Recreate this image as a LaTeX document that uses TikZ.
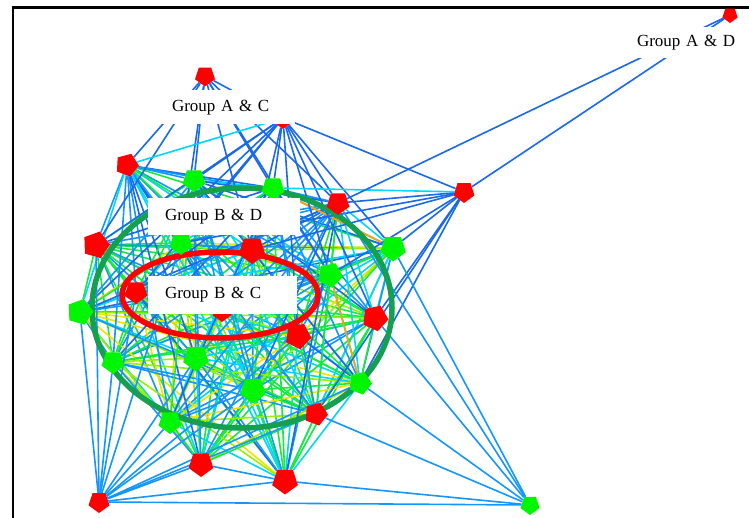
\documentclass[tikz,border=0pt]{standalone}
\usepackage{fontspec}
\setmainfont{Liberation Serif}
\usetikzlibrary{shapes.geometric}

\pgfdeclarelayer{edges}
\pgfdeclarelayer{rings}
\pgfsetlayers{edges,rings,main}

\definecolor{eblue}{RGB}{25,105,235}
\definecolor{esky}{RGB}{20,150,250}
\definecolor{ecyan}{RGB}{0,215,250}
\definecolor{egreen}{RGB}{20,235,60}
\definecolor{elime}{RGB}{150,240,0}
\definecolor{eyellow}{RGB}{240,225,0}
\definecolor{eorange}{RGB}{255,165,0}
\definecolor{ringgreen}{RGB}{20,160,80}
\definecolor{nodered}{RGB}{255,0,0}
\definecolor{nodegreen}{RGB}{0,245,0}
% edge palette for the loops
\colorlet{c0}{eblue}\colorlet{c1}{esky}\colorlet{c2}{ecyan}\colorlet{c3}{egreen}
\colorlet{c4}{ecyan}\colorlet{c5}{egreen}\colorlet{c6}{esky}\colorlet{c7}{elime}
\colorlet{c8}{ecyan}\colorlet{c9}{egreen}\colorlet{c10}{eyellow}\colorlet{c11}{ecyan}
\colorlet{u0}{eblue}\colorlet{u1}{esky}\colorlet{u2}{ecyan}\colorlet{u3}{esky}\colorlet{u4}{egreen}

\begin{document}
\begin{tikzpicture}[x=1pt,y=-1pt,
    font=\fontsize{17}{20}\selectfont,
    vtx/.style={regular polygon,regular polygon sides=5,shape border rotate=180,
                inner sep=0pt,minimum size=24pt},
    rednode/.style={vtx,fill=nodered},
    greennode/.style={vtx,fill=nodegreen},
    link/.style={line width=1.6pt},
    hub/.style={link,eblue},
    ring/.style={line width=5.5pt},
    grouplabel/.style={fill=white,inner xsep=17pt,inner ysep=0pt,
                       minimum height=34pt,align=left}]
  \useasboundingbox (0,0) rectangle (749,518);
  \draw[line width=2.5pt] (13,518) -- (13,7.5) -- (749,7.5);

  % vertices
  \node[rednode,minimum size=21pt] (R1) at (205,76) {};
  \node[rednode,minimum size=22pt] (R2) at (283,118) {};
  \node[rednode,rotate=15] (R3) at (127,165) {};
  \node[greennode] (G1) at (194,180) {};
  \node[greennode] (G2) at (273,188) {};
  \node[rednode] (R4) at (338,203) {};
  \node[rednode,minimum size=22pt] (R5) at (464,192) {};
  \node[rednode,minimum size=28pt,rotate=20] (R6) at (96,245) {};
  \node[greennode] (G3) at (181,243) {};
  \node[rednode,minimum size=28pt] (R7) at (252,250) {};
  \node[greennode,minimum size=27pt] (G4) at (393,248) {};
  \node[greennode,minimum size=26pt,rotate=10] (G5) at (330,275) {};
  \node[rednode] (R8) at (136,292) {};
  \node[rednode,minimum size=20pt] (RH) at (222,312) {};
  \node[greennode,minimum size=27pt,rotate=20] (G6) at (80,312) {};
  \node[rednode,minimum size=27pt,rotate=12] (R9) at (375,318) {};
  \node[rednode,minimum size=27pt,rotate=10] (R10) at (298,336) {};
  \node[greennode] (G7) at (113,362) {};
  \node[greennode,minimum size=27pt] (G8) at (196,358) {};
  \node[greennode,minimum size=27pt] (G9) at (253,390) {};
  \node[greennode,rotate=15] (G10) at (360,383) {};
  \node[rednode,rotate=15] (R11) at (316,414) {};
  \node[greennode] (G11) at (170,422) {};
  \node[rednode,minimum size=26pt] (R12) at (201,464) {};
  \node[rednode,minimum size=27pt] (R13) at (285,481) {};
  \node[rednode,minimum size=22pt] (R14) at (99,502) {};
  \node[greennode,minimum size=20pt] (G12) at (530,505) {};
  \node[rednode,minimum size=16pt] (R15) at (730,15) {};

  \begin{pgfonlayer}{edges}
    % dense core
    \foreach \a [count=\i] in {R6,G3,R7,G4,G5,R8,RH,G6,R9,R10,G7,G8,G9,G10,R11,G11,R12,R13}
      \foreach \b [count=\j] in {R6,G3,R7,G4,G5,R8,RH,G6,R9,R10,G7,G8,G9,G10,R11,G11,R12,R13}
        {\ifnum\j>\i
           \pgfmathtruncatemacro\k{mod(5*\i+7*\j+\i*\j,12)}
           \draw[link,draw=c\k] (\a) -- (\b);
         \fi}
    % upper ring into the core
    \foreach \a [count=\i] in {R3,G1,G2,R4}
      \foreach \b [count=\j] in {R6,G3,R7,G4,G5,R8,RH,G6,R9,R10,G7,G8,G9,G10,R11,G11,R12,R13}
        {\pgfmathtruncatemacro\k{mod(\i+2*\j,5)}
         \draw[link,draw=u\k] (\a) -- (\b);}
    \draw[link,esky] (R3) -- (G1);  \draw[link,eblue] (R3) -- (G2);
    \draw[link,esky] (R3) -- (R4);  \draw[link,ecyan] (G1) -- (G2);
    \draw[link,eblue] (G1) -- (R4); \draw[link,esky] (G2) -- (R4);
    \draw[link,eorange] (G2) -- (G4);
    \draw[link,eorange] (G5) -- (G10);
    % outer hubs
    \foreach \b in {R2,R3,G1,G2,R4,G3,R7,R6,G5}
      \draw[hub] (R1) -- (\b);
    \foreach \b in {G1,G2,R4,R5,G3,R7,G5,G4,R9,R6,G6,R8,R10}
      \draw[hub] (R2) -- (\b);
    \draw[link,ecyan] (R3) -- (R2);
    \foreach \b in {R4,G4,G5,R7,G3,R9,G10,R11}
      \draw[hub] (R5) -- (\b);
    \draw[link,ecyan] (G2) -- (R5);
    \draw[hub] (R5) -- (R15);
    \draw[hub] (R4) -- (R15);
    \foreach \b in {R6,G6,G7,R8,G11,R12,R13,G8,G9,R10,R11,G3,G10}
      \draw[link,esky] (R14) -- (\b);
    \foreach \b in {R14,R13,R11,G10,R9,G4,R4}
      \draw[link,esky] (G12) -- (\b);
  \end{pgfonlayer}

  \begin{pgfonlayer}{rings}
    \draw[ring,ringgreen] (242,308) ellipse [x radius=150,y radius=120];
    \draw[ring,nodered] (220,295) ellipse [x radius=98,y radius=43];
  \end{pgfonlayer}

  % group labels
  \node[grouplabel,text width=106pt] (lblAC) at (225,107.5) {Group A \& C};
  \node[grouplabel,text width=118pt,minimum height=37pt] (lblBD) at (224,217) {Group B \& D};
  \node[grouplabel,text width=115pt,minimum height=38pt] (lblBC) at (222.5,295) {Group B \& C};
  \node[grouplabel,text width=112pt,minimum height=31pt] (lblAD) at (693,43) {Group A \& D};
\end{tikzpicture}
\end{document}
